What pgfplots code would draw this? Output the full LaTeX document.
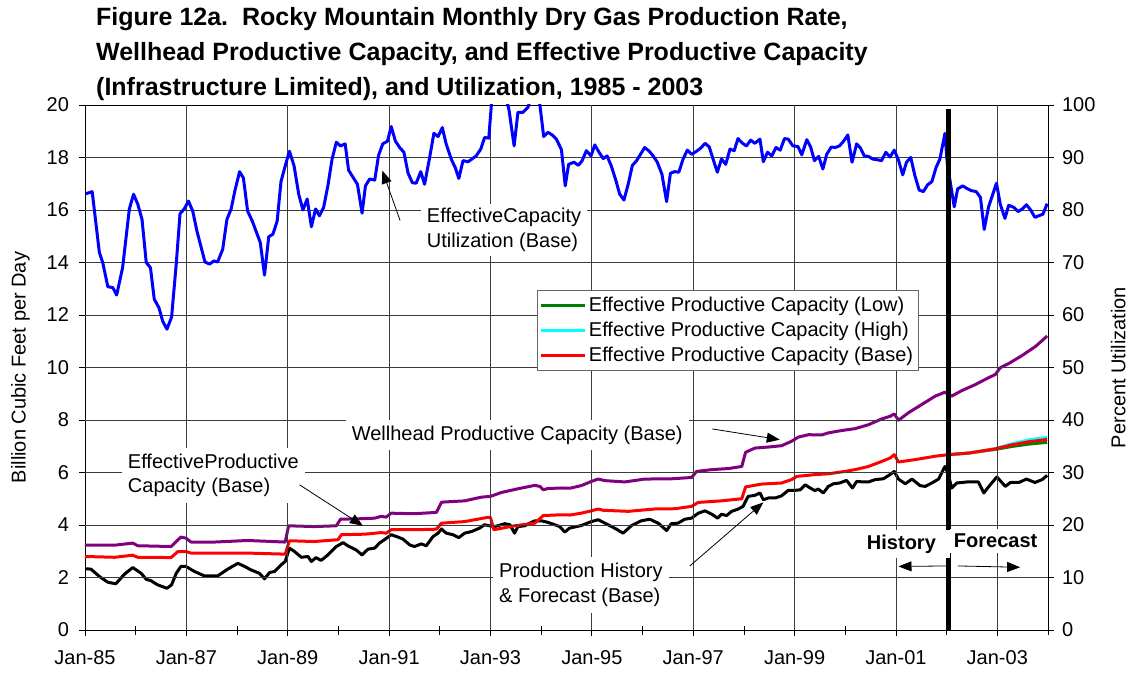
\documentclass[border=0pt]{standalone}
\usepackage{fontspec}
\setmainfont{Liberation Sans}
\usepackage{pgfplots}
\pgfplotsset{compat=1.18}
\usetikzlibrary{arrows.meta}

\definecolor{cPurple}{RGB}{128,0,128}
\definecolor{cGreen}{RGB}{0,128,0}
\definecolor{cCyan}{RGB}{0,255,255}
\definecolor{cGrid}{RGB}{60,60,60}

\begin{document}
\begin{tikzpicture}
\path[use as bounding box] (-85pt,-45pt) rectangle (1045pt,630pt);
\node[anchor=base west, inner sep=0pt, font=\fontsize{25}{30}\selectfont\bfseries] at (11pt,604pt) {Figure 12a.\ \ Rocky Mountain Monthly Dry Gas Production Rate,};
\node[anchor=base west, inner sep=0pt, font=\fontsize{25}{30}\selectfont\bfseries] at (11pt,569pt) {Wellhead Productive Capacity, and Effective Productive Capacity};
\node[anchor=base west, inner sep=0pt, font=\fontsize{25}{30}\selectfont\bfseries] at (11pt,534pt) {(Infrastructure Limited), and Utilization, 1985 - 2003};

\begin{axis}[
  at={(0pt,0pt)}, anchor=south west, scale only axis,
  width=963pt, height=525pt,
  xmin=0, xmax=228, ymin=0, ymax=20,
  xtick={0,24,...,216},
  xticklabels={Jan-85,Jan-87,Jan-89,Jan-91,Jan-93,Jan-95,Jan-97,Jan-99,Jan-01,Jan-03},
  minor xtick={12,36,...,228},
  ytick={0,2,...,20},
  xtick pos=bottom, ytick pos=left,
  tick align=center,
  major tick length=11pt, minor tick length=9pt,
  tick style={black, line width=0.8pt},
  axis line style={black, line width=0.9pt},
  tick label style={font=\fontsize{20}{24}\selectfont},
  xticklabel style={yshift=-11pt},
  yticklabel style={xshift=-7pt},
  /pgf/number format/assume math mode=true,
  ylabel={Billion Cubic Feet per Day},
  every axis y label/.style={at={(axis description cs:-0.067,0.5)}, rotate=90, anchor=center, font=\fontsize{20}{24}\selectfont},
]
% Wellhead productive capacity (base)
\addplot[cPurple, line width=3pt, line join=round, forget plot] coordinates {
(0,3.23) (7,3.23) (11.3,3.31) (12.5,3.21) (20.4,3.18) (21.6,3.37) (22.7,3.54) (23.9,3.50) (25.1,3.35) (30.6,3.35) (38.5,3.41) (47.4,3.35) (48.2,3.97) (54.3,3.94) (59.5,3.97) (60.5,4.22) (65.4,4.24) (68.6,4.26) (70.1,4.33) (71.3,4.30) (72.5,4.45) (78,4.43) (83.2,4.48) (84.4,4.87) (89.9,4.92) (93.8,5.06) (96,5.09) (98.6,5.24) (102.5,5.38) (106.5,5.51) (107.7,5.47) (108.5,5.34) (109.6,5.39) (112.8,5.41) (114.8,5.40) (117.5,5.50) (119.9,5.66) (121.5,5.75) (123.1,5.69) (127.8,5.64) (132.5,5.75) (138.9,5.76) (143.6,5.81) (144.8,6.04) (148.4,6.11) (152.3,6.15) (155.5,6.23) (156.4,6.77) (158.6,6.93) (161.8,6.97) (164.9,7.02) (167.3,7.19) (168.9,7.35) (171.3,7.44) (174.4,7.43) (176,7.51) (179.2,7.60) (182.3,7.67) (185.5,7.82) (188.6,8.04) (190.6,8.14) (191.6,8.23) (192.6,7.99) (194.9,8.27) (198.1,8.59) (201.3,8.91) (203.6,9.06) (204.4,8.97) (205.2,8.91) (207.6,9.12) (210.8,9.35) (213.9,9.61) (215.5,9.73) (216.7,9.99) (218.7,10.15) (221.9,10.46) (225.1,10.81) (227.8,11.20)
};
% Production history & forecast (base)
\addplot[black, line width=3pt, line join=round, forget plot] coordinates {
(0.2,2.33) (1.4,2.32) (3.4,2.04) (5.4,1.82) (7.3,1.76) (9.3,2.12) (11.3,2.38) (13.3,2.16) (14.5,1.93) (15.6,1.88) (17.2,1.72) (19.4,1.59) (20.5,1.72) (21.6,2.16) (22.7,2.42) (23.9,2.42) (25.9,2.23) (28.3,2.06) (31.4,2.06) (33.8,2.32) (36.2,2.54) (37.8,2.42) (39.3,2.29) (41.3,2.16) (42.5,1.95) (43.7,2.19) (44.9,2.23) (46.4,2.48) (47.4,2.61) (48.4,3.12) (49.6,2.99) (51.2,2.77) (52.8,2.80) (53.6,2.61) (54.7,2.76) (55.9,2.65) (57.5,2.86) (59.5,3.18) (61.1,3.33) (62.2,3.21) (64.2,3.05) (65.6,2.86) (67,3.08) (68.6,3.12) (69.7,3.31) (70.9,3.44) (72.5,3.63) (74.1,3.54) (75.3,3.46) (76.9,3.24) (78,3.18) (79.6,3.28) (80.8,3.21) (82.4,3.56) (83.6,3.69) (84.4,3.85) (85.5,3.69) (87.1,3.63) (88.5,3.52) (89.9,3.69) (91.5,3.75) (93.4,3.88) (94.6,4.01) (95.8,3.97) (97,3.94) (99.4,4.05) (100.6,4.01) (101.7,3.69) (102.5,3.94) (104.1,3.97) (105.3,4.07) (106.5,4.16) (108.1,4.16) (109.6,4.10) (111.2,4.01) (112.4,3.94) (113.6,3.73) (114.7,3.88) (117.5,3.98) (119.9,4.13) (121.5,4.20) (123.1,4.07) (125.4,3.88) (127.4,3.69) (129.4,3.98) (131.7,4.16) (133.7,4.22) (135.7,4.07) (137.7,3.79) (138.8,4.05) (140.4,4.07) (142,4.22) (143.6,4.26) (145.2,4.45) (146.8,4.54) (148.4,4.41) (149.8,4.26) (150.7,4.41) (151.9,4.36) (153.1,4.52) (154.7,4.61) (155.8,4.71) (157,5.09) (158.6,5.13) (159.8,5.22) (160.6,4.96) (161.8,5.03) (163.4,5.03) (164.9,5.11) (166.5,5.32) (168.1,5.32) (169.3,5.34) (170.5,5.53) (171.7,5.41) (172.8,5.31) (173.6,5.37) (174.8,5.22) (176,5.47) (177.2,5.57) (178.7,5.60) (180.3,5.70) (181.7,5.41) (182.7,5.66) (184.3,5.64) (185.5,5.64) (187.1,5.73) (189,5.76) (190.6,5.92) (191.6,6.04) (192.6,5.75) (194.2,5.57) (195.8,5.75) (197.7,5.50) (198.9,5.47) (200.5,5.60) (202.1,5.75) (203.6,6.23) (204.3,5.98) (205.2,5.41) (206.4,5.60) (208.8,5.64) (211.5,5.64) (212.8,5.22) (214.3,5.53) (215.9,5.83) (217.9,5.47) (219.1,5.62) (221.1,5.62) (222.9,5.75) (224.9,5.62) (226.6,5.73) (227.8,5.89)
};
% Effective productive capacity (low)
\addplot[cGreen, line width=3pt, line join=round, forget plot] coordinates {
(204.4,6.68) (209.2,6.74) (215.5,6.88) (219.4,6.99) (223.4,7.08) (227.8,7.15)
};
% Effective productive capacity (high)
\addplot[cCyan, line width=3pt, line join=round, forget plot] coordinates {
(204.4,6.68) (209.2,6.74) (215.5,6.91) (219.4,7.09) (223.4,7.24) (227.8,7.34)
};
% Effective productive capacity (base)
\addplot[red, line width=3pt, line join=round, forget plot] coordinates {
(0,2.80) (7,2.77) (11.3,2.85) (12.5,2.77) (20.4,2.76) (22,2.99) (23.9,2.99) (25.1,2.93) (38.5,2.93) (47.4,2.89) (48.4,3.40) (54.3,3.37) (59.9,3.44) (60.7,3.63) (66.2,3.65) (70.1,3.71) (71.3,3.69) (72.5,3.82) (78,3.82) (83.2,3.84) (84.4,4.07) (89.9,4.13) (95.3,4.29) (96,4.29) (96.8,3.82) (101.7,3.97) (106.5,4.07) (108.5,4.36) (112.8,4.39) (114.8,4.38) (117.5,4.45) (119.9,4.54) (121.5,4.61) (122.7,4.56) (128.6,4.52) (134.9,4.61) (139.7,4.62) (143.6,4.71) (145.2,4.86) (150.7,4.92) (155.5,5.00) (156.4,5.45) (160.2,5.56) (164.9,5.60) (167.3,5.73) (168.5,5.85) (172.8,5.92) (176,5.95) (179.9,6.04) (182.3,6.11) (185.5,6.23) (188.6,6.42) (190.6,6.55) (191.6,6.68) (192.6,6.40) (196.5,6.49) (201.3,6.62) (204.4,6.68) (209.2,6.74) (215.5,6.90) (219.4,7.05) (223.4,7.17) (227.8,7.26)
};
\end{axis}

\begin{axis}[
  at={(0pt,0pt)}, anchor=south west, scale only axis,
  width=963pt, height=525pt,
  xmin=0, xmax=228, ymin=0, ymax=100,
  axis y line*=right, axis x line=none,
  ytick={0,10,...,100},
  tick align=center,
  major tick length=11pt,
  tick style={black, line width=0.8pt},
  axis line style={black, line width=0.9pt},
  tick label style={font=\fontsize{20}{24}\selectfont},
  yticklabel style={xshift=5pt},
  /pgf/number format/assume math mode=true,
  ylabel={Percent Utilization},
  every axis y label/.style={at={(axis description cs:1.073,0.5)}, rotate=90, anchor=center, font=\fontsize{20}{24}\selectfont},
  legend style={at={(0.469,0.648)}, anchor=north west, draw=black!60, line width=0.6pt,
    font=\fontsize{20}{24}\selectfont, fill=white, row sep=5pt, inner xsep=3pt, inner ysep=5pt},
  legend cell align=left,
  legend image code/.code={\path (0pt,0pt) -- (44pt,0pt); \draw[#1] (7pt,0pt) -- (38pt,0pt);},
]
% grid lines (every 2 years; every 2 Bcf/d = every 10 percent)
\pgfplotsinvokeforeach{24,48,...,216}{\addplot[cGrid, line width=0.9pt, forget plot] coordinates {(#1,0) (#1,100)};}
\pgfplotsinvokeforeach{10,20,...,90}{\addplot[cGrid, line width=0.9pt, forget plot] coordinates {(0,#1) (228,#1)};}
% Effective capacity utilization (base), percent
\addplot[blue, line width=3pt, line join=round, forget plot] coordinates {
(0.2,83.1) (1.7,83.5) (3.4,71.9) (4.2,70.0) (5.4,65.4) (6.6,65.2) (7.5,63.8) (8.9,69.0) (10.5,80.2) (11.5,83.0) (12.5,81.1) (13.5,78.2) (14.5,70.0) (15.5,69.0) (16.4,63.0) (17.5,61.4) (18.4,58.8) (19.4,57.3) (20.5,59.6) (21.6,69.7) (22.5,79.3) (23.5,80.2) (24.5,81.7) (25.5,79.8) (26.5,76.0) (28.4,70.1) (29.5,69.7) (30.5,70.3) (31.4,70.1) (32.6,72.5) (33.6,78.2) (34.6,80.2) (35.5,83.7) (36.6,87.3) (37.5,86.1) (38.5,79.8) (39.6,77.9) (41.5,73.8) (42.5,67.6) (43.5,74.9) (44.5,75.4) (45.5,77.9) (46.4,85.4) (47.4,88.4) (48.4,91.2) (49.5,88.4) (50.6,83.0) (51.6,80.0) (52.6,82.1) (53.6,76.8) (54.6,80.2) (55.5,78.9) (56.5,80.5) (57.5,84.6) (58.5,89.7) (59.5,92.9) (60.5,92.2) (61.6,92.6) (62.4,87.6) (63.4,86.3) (64.5,84.9) (65.6,79.4) (66.4,84.6) (67.4,85.9) (68.6,85.7) (69.5,90.4) (70.5,92.6) (71.6,93.1) (72.5,95.9) (73.5,93.1) (74.5,91.9) (75.5,91.0) (76.5,87.0) (77.5,85.2) (78.4,85.1) (79.5,87.3) (80.4,84.9) (81.6,90.0) (82.6,94.6) (83.6,94.0) (84.6,95.7) (85.5,92.6) (86.7,89.7) (87.7,88.0) (88.5,86.0) (89.5,89.4) (90.7,89.2) (91.6,89.7) (92.6,90.3) (93.7,91.6) (94.6,93.8) (95.6,93.7) (96.5,103) (97.5,106) (98.5,105) (99.5,102) (100.4,99) (101.6,92.2) (102.5,98.6) (103.7,98.6) (104.9,99.6) (105.8,102) (106.8,102.5) (107.7,100) (108.6,94.0) (109.6,94.8) (110.6,94.3) (111.6,93.5) (112.8,91.5) (113.7,84.6) (114.5,88.7) (115.8,89.1) (116.8,88.5) (117.7,89.4) (118.7,91.3) (119.8,90.3) (120.7,92.4) (121.7,91.0) (122.7,89.8) (123.6,90.3) (124.6,88.4) (125.7,85.6) (126.6,83.0) (127.6,81.9) (128.6,84.9) (129.6,88.5) (130.6,89.4) (132.5,91.9) (133.6,91.2) (134.5,90.3) (135.5,89.1) (136.6,86.8) (137.7,81.6) (138.6,87.0) (139.6,87.3) (140.6,87.2) (141.6,89.7) (142.6,91.4) (143.6,90.6) (144.8,91.2) (145.8,91.8) (146.8,92.7) (147.8,92.0) (148.7,89.7) (149.7,87.2) (150.7,89.7) (151.7,88.7) (152.7,91.6) (153.7,91.3) (154.6,93.6) (155.7,92.7) (156.6,92.2) (157.6,93.3) (158.6,92.7) (159.8,93.5) (160.6,89.2) (161.6,91.0) (162.6,90.3) (163.6,91.9) (164.6,91.4) (165.6,93.6) (166.5,93.5) (167.6,92.2) (168.8,92.1) (169.7,90.5) (170.9,93.4) (171.8,92.0) (172.7,89.4) (173.7,90.2) (174.7,87.8) (175.6,90.6) (176.7,92.0) (177.6,91.9) (178.6,92.2) (179.6,93.1) (180.6,94.3) (181.6,89.1) (182.7,92.6) (183.6,91.8) (184.5,90.3) (185.5,90.2) (186.5,89.7) (187.4,89.6) (188.6,89.4) (189.6,91.0) (190.6,90.1) (191.6,91.4) (192.6,89.5) (193.6,86.7) (194.5,89.1) (195.5,90.0) (196.5,86.5) (197.5,83.8) (198.5,83.5) (199.5,84.8) (200.5,85.4) (201.5,88.1) (202.4,89.7) (203.6,94.6) (204.2,88.4) (204.8,85.6) (205.8,80.6) (206.6,84.0) (207.8,84.6) (208.8,84.1) (209.8,83.7) (211.0,83.5) (212.0,82.4) (212.9,76.3) (213.9,80.5) (215.8,85.1) (216.7,81.1) (217.8,78.4) (218.7,80.9) (219.9,80.5) (220.9,79.7) (221.9,80.2) (222.9,81.0) (223.9,80.0) (224.9,78.6) (225.8,78.9) (226.8,79.2) (227.8,81.2)
};
\addlegendimage{cGreen, line width=3pt}
\addlegendentry{Effective Productive Capacity (Low)}
\addlegendimage{cCyan, line width=3pt}
\addlegendentry{Effective Productive Capacity (High)}
\addlegendimage{red, line width=3pt}
\addlegendentry{Effective Productive Capacity (Base)}

% history / forecast divider
\draw[black, line width=4.5pt] (axis cs:204.4,0) -- (axis cs:204.4,99.25);

% annotations (positions in percent units of this axis)
\node[fill=white, align=left, anchor=west, inner xsep=6pt, inner ysep=4pt, font=\fontsize{20}{24.6}\selectfont] at (axis cs:79.5,76.2) {EffectiveCapacity\\Utilization (Base)};
\node[fill=white, align=left, anchor=west, inner xsep=6pt, inner ysep=6pt, font=\fontsize{20}{24.6}\selectfont] at (axis cs:61.7,37.15) {Wellhead Productive Capacity (Base)};
\node[fill=white, align=left, anchor=west, inner xsep=6pt, inner ysep=6pt, font=\fontsize{20}{24.6}\selectfont] at (axis cs:8.7,29.45) {EffectiveProductive\\Capacity (Base)};
\node[fill=white, align=left, anchor=west, inner xsep=6pt, inner ysep=6pt, font=\fontsize{20}{24.6}\selectfont] at (axis cs:96.6,8.55) {Production History\\\& Forecast (Base)};
\node[fill=white, inner xsep=14pt, inner ysep=5pt, font=\fontsize{20}{24}\selectfont\bfseries] at (axis cs:193.3,16.4) {History};
\node[fill=white, inner xsep=4pt, inner ysep=5pt, font=\fontsize{20}{24}\selectfont\bfseries] at (axis cs:215.6,16.95) {Forecast};

\draw[-{Triangle[length=13pt,width=10pt]}, line width=0.8pt] (axis cs:74.6,78) -- (axis cs:70.4,87.5);
\draw[-{Triangle[length=13pt,width=10pt]}, line width=0.8pt] (axis cs:148.5,38.3) -- (axis cs:164.5,36.25);
\draw[-{Triangle[length=13pt,width=10pt]}, line width=0.8pt] (axis cs:50.8,27.65) -- (axis cs:65.8,19.85);
\draw[-{Triangle[length=13pt,width=10pt]}, line width=0.8pt] (axis cs:143.2,12.2) -- (axis cs:160.6,24.3);
\draw[-{Triangle[length=13pt,width=10pt]}, line width=0.8pt] (axis cs:204.0,12.2) -- (axis cs:192.6,12.1);
\draw[-{Triangle[length=13pt,width=10pt]}, line width=0.8pt] (axis cs:206.6,12.2) -- (axis cs:221.4,11.95);
\end{axis}
\end{tikzpicture}
\end{document}
